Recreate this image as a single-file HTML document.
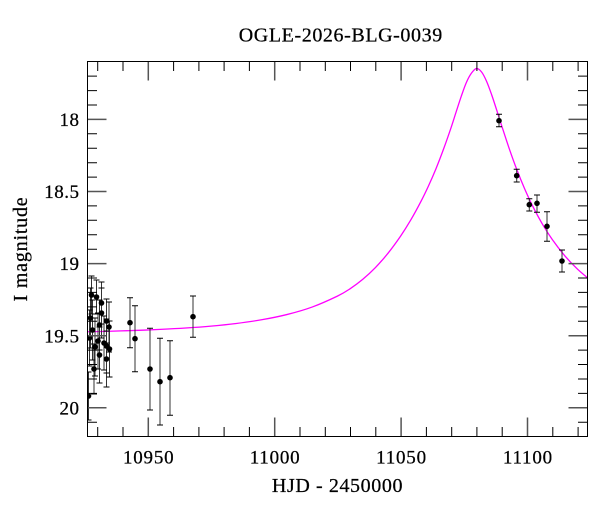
<!DOCTYPE html>
<html>
<head>
<meta charset="utf-8">
<style>
  html,body{margin:0;padding:0;background:#fff;}
  svg{display:block;}
  text{font-family:"Liberation Serif","DejaVu Serif",serif;fill:#000;stroke:#000;stroke-width:0.25px;}
</style>
</head>
<body>
<svg width="600" height="512" viewBox="0 0 600 512" xmlns="http://www.w3.org/2000/svg">
  <rect x="0" y="0" width="600" height="512" fill="#fff"/>

  <!-- Title -->
  <text x="340.8" y="41.7" font-size="20" text-anchor="middle" letter-spacing="0.6">OGLE-2026-BLG-0039</text>

  <defs>
    <clipPath id="pc"><rect x="87.5" y="61.5" width="500" height="375"/></clipPath>
  </defs>

  <!-- Model curve -->
  <g clip-path="url(#pc)">
    <path id="curve" fill="none" stroke="#ff00ff" stroke-width="1.3" stroke-linejoin="round"
      d="M84.59,331.81 L109.87,331.24 L135.15,330.45 L160.43,329.41 L185.71,328.01 L210.99,326.10 L236.27,323.46 L261.55,319.78 L286.83,314.56 L312.11,307.05 L337.39,296.12 L350.03,288.8 L362.67,279.4 L375.31,267.7 L387.95,253.3 L400.59,236.1 L410.70,220.1 L420.81,201.7 L428.40,186.1 L435.98,168.7 L443.57,149.0 L451.15,127.4 L456.21,111.7 L461.26,96.3 L466.32,82.6 L471.37,73.3 L476.43,68.5 L481.49,71.90 L486.54,81.24 L491.60,94.61 L496.65,109.94 L501.71,125.80 L509.29,148.79 L516.88,169.78 L524.46,188.39 L532.05,204.84 L542.16,223.69 L552.27,239.52 L564.91,255.90 L577.55,269.18 L590.19,280.00"/>
  </g>

  <!-- Error bars (vertical lines) -->
  <g clip-path="url(#pc)">
  <path fill="none" stroke="#333" stroke-width="1" d="
    M88.5 372V420 M89.5 310V366 M90.5 288V348 M91.5 276V314 M92.5 300V360
    M94 344V394 M95 318V376 M96.5 280V314 M98 313V369 M99.5 300V350
    M99.5 327V383 M101.5 282V324 M101.5 288V338 M104 316V370 M106.5 299V343
    M106.5 319V373 M106.5 331V387 M109 302V352 M109.5 321V377
    M130 297.7V347.7 M135 305.7V371.7 M150 328.3V410 M160 338.3V425 M170 340.7V415.3 M193 296V337.3
    M499 114.3V126.7 M516.7 169.3V182 M529.3 198.7V211 M537 195V212.3 M547 211.7V241.3 M562 250V272"/>
  <!-- caps -->
  <path fill="none" stroke="#000" stroke-width="1" d="
    M85.5 372h6M85.5 420h6 M86.5 310h6M86.5 366h6 M87.5 288h6M87.5 348h6 M88.5 276h6M88.5 314h6 M89.5 300h6M89.5 360h6
    M91 344h6M91 394h6 M92 318h6M92 376h6 M93.5 280h6M93.5 314h6 M95 313h6M95 369h6 M96.5 300h6M96.5 350h6
    M96.5 327h6M96.5 383h6 M98.5 282h6M98.5 324h6 M98.5 288h6M98.5 338h6 M101 316h6M101 370h6 M103.5 299h6M103.5 343h6
    M103.5 319h6M103.5 373h6 M103.5 331h6M103.5 387h6 M106 302h6M106 352h6 M106.5 321h6M106.5 377h6
    M127 297.7h6M127 347.7h6 M132 305.7h6M132 371.7h6 M147 328.3h6M147 410h6 M157 338.3h6M157 425h6 M167 340.7h6M167 415.3h6 M190 296h6M190 337.3h6
    M496 114.3h6M496 126.7h6 M513.7 169.3h6M513.7 182h6 M526.3 198.7h6M526.3 211h6 M534 195h6M534 212.3h6 M544 211.7h6M544 241.3h6 M559 250h6M559 272h6"/>
  <!-- points -->
  <g fill="#000">
    <circle cx="88.5" cy="396" r="2.8"/><circle cx="89.5" cy="338" r="2.8"/><circle cx="90.5" cy="318" r="2.8"/>
    <circle cx="91.5" cy="295" r="2.8"/><circle cx="92.5" cy="330" r="2.8"/><circle cx="94" cy="369" r="2.8"/>
    <circle cx="95" cy="347" r="2.8"/><circle cx="96.5" cy="297" r="2.8"/><circle cx="98" cy="341" r="2.8"/>
    <circle cx="99.5" cy="325" r="2.8"/><circle cx="99.5" cy="355" r="2.8"/><circle cx="101.5" cy="303" r="2.8"/>
    <circle cx="101.5" cy="313" r="2.8"/><circle cx="104" cy="343" r="2.8"/><circle cx="106.5" cy="321" r="2.8"/>
    <circle cx="106.5" cy="346" r="2.8"/><circle cx="106.5" cy="359" r="2.8"/><circle cx="109" cy="327" r="2.8"/>
    <circle cx="109.5" cy="349" r="2.8"/>
    <circle cx="130" cy="322.7" r="2.8"/><circle cx="135" cy="338.7" r="2.8"/><circle cx="150" cy="369" r="2.8"/>
    <circle cx="160" cy="381.7" r="2.8"/><circle cx="170" cy="377.7" r="2.8"/><circle cx="193" cy="316.7" r="2.8"/>
    <circle cx="499" cy="120.7" r="2.8"/><circle cx="516.7" cy="175.7" r="2.8"/><circle cx="529.3" cy="204.7" r="2.8"/>
    <circle cx="537" cy="203.3" r="2.8"/><circle cx="547" cy="226.3" r="2.8"/><circle cx="562" cy="261" r="2.8"/>
  </g>
  </g>

  <!-- Minor ticks -->
  <path fill="none" stroke="#000" stroke-width="1" d="
    M97.7 436.5v-9.5 M123 436.5v-9.5 M173.6 436.5v-9.5 M198.9 436.5v-9.5 M224.1 436.5v-9.5 M249.4 436.5v-9.5
    M300 436.5v-9.5 M325.3 436.5v-9.5 M350.5 436.5v-9.5 M375.8 436.5v-9.5 M426.4 436.5v-9.5 M451.7 436.5v-9.5
    M476.9 436.5v-9.5 M502.2 436.5v-9.5 M552.8 436.5v-9.5 M578.1 436.5v-9.5
    M97.7 61.5v9.5 M123 61.5v9.5 M173.6 61.5v9.5 M198.9 61.5v9.5 M224.1 61.5v9.5 M249.4 61.5v9.5
    M300 61.5v9.5 M325.3 61.5v9.5 M350.5 61.5v9.5 M375.8 61.5v9.5 M426.4 61.5v9.5 M451.7 61.5v9.5
    M476.9 61.5v9.5 M502.2 61.5v9.5 M552.8 61.5v9.5 M578.1 61.5v9.5
    M87.5 76.1h9.5 M87.5 90.6h9.5 M87.5 105h9.5 M87.5 133.8h9.5 M87.5 148.2h9.5 M87.5 162.7h9.5 M87.5 177.1h9.5
    M87.5 205.9h9.5 M87.5 220.3h9.5 M87.5 234.8h9.5 M87.5 249.2h9.5 M87.5 278h9.5 M87.5 292.4h9.5 M87.5 306.9h9.5
    M87.5 321.3h9.5 M87.5 350.1h9.5 M87.5 364.5h9.5 M87.5 379h9.5 M87.5 393.4h9.5 M87.5 422.2h9.5
    M587.5 76.1h-9.5 M587.5 90.6h-9.5 M587.5 105h-9.5 M587.5 133.8h-9.5 M587.5 148.2h-9.5 M587.5 162.7h-9.5 M587.5 177.1h-9.5
    M587.5 205.9h-9.5 M587.5 220.3h-9.5 M587.5 234.8h-9.5 M587.5 249.2h-9.5 M587.5 278h-9.5 M587.5 292.4h-9.5 M587.5 306.9h-9.5
    M587.5 321.3h-9.5 M587.5 350.1h-9.5 M587.5 364.5h-9.5 M587.5 379h-9.5 M587.5 393.4h-9.5 M587.5 422.2h-9.5"/>
  <!-- Major ticks -->
  <path fill="none" stroke="#555" stroke-width="1.5" d="
    M148.3 436.5v-19 M274.7 436.5v-19 M401.1 436.5v-19 M527.5 436.5v-19
    M148.3 61.5v19 M274.7 61.5v19 M401.1 61.5v19 M527.5 61.5v19
    M87.5 119.4h19 M87.5 191.5h19 M87.5 263.6h19 M87.5 335.7h19 M87.5 407.8h19
    M587.5 119.4h-19 M587.5 191.5h-19 M587.5 263.6h-19 M587.5 335.7h-19 M587.5 407.8h-19"/>

  <!-- Frame -->
  <rect x="87.5" y="61.5" width="500" height="375" fill="none" stroke="#000" stroke-width="1"/>

  <!-- X tick labels -->
  <g font-size="19" text-anchor="middle" letter-spacing="0.8">
    <text x="148.7" y="463.5">10950</text>
    <text x="275.1" y="463.5">11000</text>
    <text x="401.5" y="463.5">11050</text>
    <text x="527.9" y="463.5">11100</text>
  </g>
  <!-- Y tick labels -->
  <g font-size="19" text-anchor="end" letter-spacing="0.5">
    <text x="79.5" y="126">18</text>
    <text x="79.5" y="198">18.5</text>
    <text x="79.5" y="270.2">19</text>
    <text x="79.5" y="342.3">19.5</text>
    <text x="79.5" y="414.4">20</text>
  </g>

  <!-- Axis labels -->
  <text x="337.5" y="492" font-size="20" text-anchor="middle" letter-spacing="0.6">HJD - 2450000</text>
  <text transform="translate(27,249) rotate(-90)" font-size="20" text-anchor="middle" letter-spacing="0.8">I magnitude</text>
</svg>
<script>
(function(){
  var p=document.getElementById('curve');
  var d=p.getAttribute('d').replace(/[ML]/g,' ').trim().split(/\s+/);
  var pts=d.map(function(s){var a=s.split(',');return [parseFloat(a[0]),parseFloat(a[1])];});
  var n=pts.length, out='M'+pts[0][0]+','+pts[0][1];
  for(var i=0;i<n-1;i++){
    var p0=pts[Math.max(i-1,0)],p1=pts[i],p2=pts[i+1],p3=pts[Math.min(i+2,n-1)];
    var c1x=p1[0]+(p2[0]-p0[0])/6, c1y=p1[1]+(p2[1]-p0[1])/6;
    var c2x=p2[0]-(p3[0]-p1[0])/6, c2y=p2[1]-(p3[1]-p1[1])/6;
    out+=' C'+c1x.toFixed(2)+','+c1y.toFixed(2)+' '+c2x.toFixed(2)+','+c2y.toFixed(2)+' '+p2[0]+','+p2[1];
  }
  p.setAttribute('d',out);
})();
</script>
</body>
</html>
